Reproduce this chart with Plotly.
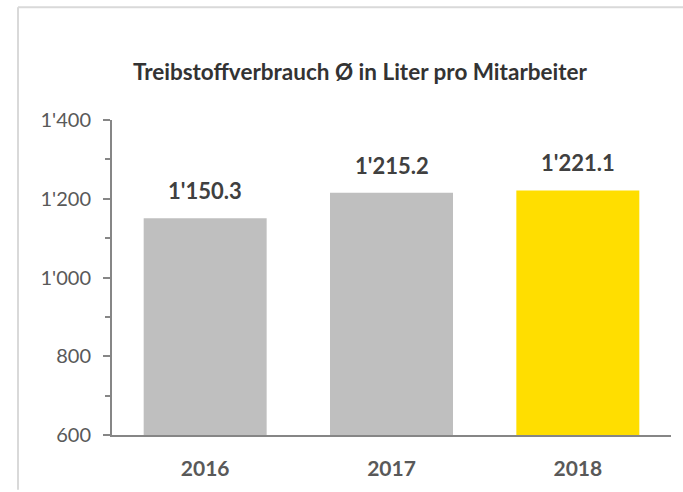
import plotly.graph_objects as go

years = ["2016", "2017", "2018"]
values = [1150.3, 1215.2, 1221.1]
bar_colors = ["#bfbfbf", "#bfbfbf", "#ffde00"]
ytick_vals = [600, 800, 1000, 1200, 1400]
ytick_text = ["600", "800", "1'000", "1'200", "1'400"]
title_text = "Treibstoffverbrauch Ø in Liter pro Mitarbeiter"

labels = [f"{v:,.1f}".replace(",", "'") for v in values]

fig = go.Figure(go.Bar(x=years, y=values, marker=dict(color=bar_colors, line=dict(width=0)),
                       width=0.66, hoverinfo="skip"))

for i, (v, t) in enumerate(zip(values, labels)):
    fig.add_annotation(x=i, y=v, text=f"<b>{t}</b>", showarrow=False, yanchor="bottom",
                       yshift=12, font=dict(family="Lato", size=22, color="#404040"))

T, B = 120, 55
H = 492 - T - B
y_axis_px = 492 - B
bx = (18 - 112) / 559
fig.update_layout(
    width=683, height=492,
    margin=dict(l=112, r=12, t=T, b=B),
    paper_bgcolor="white", plot_bgcolor="white",
    showlegend=False,
    title=dict(text=f"<b>{title_text}</b>", xref="container", yref="container",
               x=0.527, y=1 - 72 / 492, xanchor="center", yanchor="middle",
               font=dict(family="Lato", size=22.5, color="#333333")),
    xaxis=dict(type="category", range=[-0.5, 2.5], showline=True, linecolor="#868686",
               linewidth=2, ticks="", showgrid=False,
               tickfont=dict(family="Lato", size=21, color="#595959"),
               tickprefix="<b>", ticksuffix="</b>", ticklabelstandoff=14),
    yaxis=dict(range=[600, 1400], showline=True, linecolor="#868686", linewidth=2,
               showgrid=False, zeroline=False,
               tickvals=ytick_vals, ticktext=ytick_text, ticks="outside", ticklen=7,
               tickcolor="#868686", tickwidth=2,
               minor=dict(dtick=100, ticks="outside", ticklen=5, tickcolor="#868686", tickwidth=2),
               tickfont=dict(family="Lato", size=20, color="#595959"), ticklabelstandoff=8),
    shapes=[
        dict(type="line", xref="paper", yref="paper", x0=bx, x1=(683 - 112) / 559,
             y0=(y_axis_px - 6.5) / H, y1=(y_axis_px - 6.5) / H,
             line=dict(color="#d9d9d9", width=2)),
        dict(type="line", xref="paper", yref="paper", x0=bx, x1=bx,
             y0=(y_axis_px - 6.5) / H, y1=(y_axis_px - 492) / H,
             line=dict(color="#d9d9d9", width=2)),
    ],
)

fig.write_html("out.html", config={"displayModeBar": False},
               post_script="document.body.style.margin='0';")
